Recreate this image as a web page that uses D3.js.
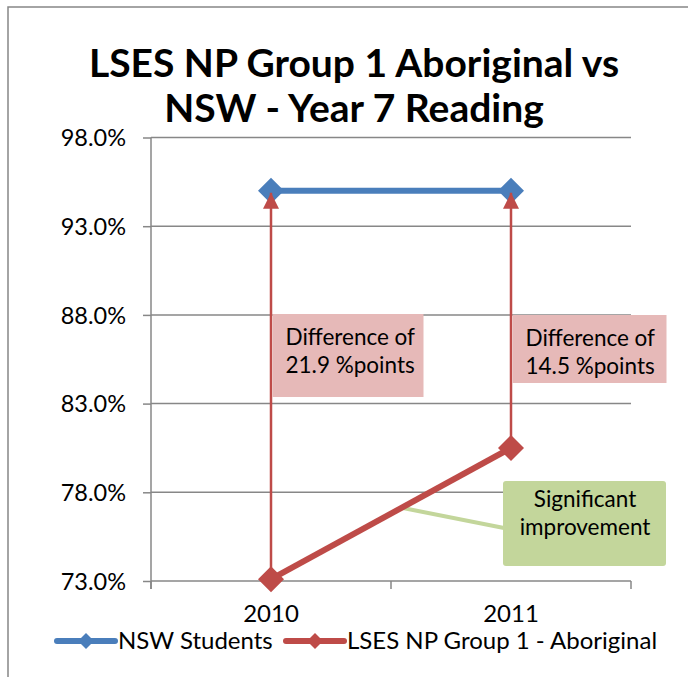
<!DOCTYPE html>
<html>
<head>
<meta charset="utf-8">
<style>
  body { margin: 0; background: #fff; }
  svg text { font-family: Lato, "Open Sans", sans-serif; fill: #000; }
</style>
<script src="https://d3js.org/d3.v7.min.js"></script>
</head>
<body>
<svg width="688" height="677"></svg>
<script>
var years = ["2010", "2011"];
var nswValues = [95.0, 95.0];
var lsesValues = [73.1, 80.5];
var yTicks = [73, 78, 83, 88, 93, 98];
var seriesNames = ["NSW Students", "LSES NP Group 1 - Aboriginal"];
var titleLines = ["LSES NP Group 1 Aboriginal vs", "NSW - Year 7 Reading"];
var diffLabels = [["Difference of", "21.9 %points"], ["Difference of", "14.5 %points"]];
var noteLines = ["Significant", "improvement"];

var svg = d3.select("svg");
var blue = "#4a7ebb", red = "#be4b48", grid = "#878787";

// chart frame (runs off the right and bottom edges)
svg.append("rect").attr("x", 8).attr("y", 7).attr("width", 720).attr("height", 720)
  .attr("fill", "none").attr("stroke", grid).attr("stroke-width", 1.5);

var x = d3.scaleBand().domain(years).range([151, 631]);
var y = d3.scaleLinear().domain([73, 98]).range([581, 137.5]);
function cx(d) { return x(d) + x.bandwidth() / 2; }

// title
svg.append("g").selectAll("text").data(titleLines).enter().append("text")
  .attr("x", 354).attr("y", function(d, i) { return 77 + i * 45; })
  .attr("text-anchor", "middle").attr("font-size", 39).attr("font-weight", "bold")
  .text(function(d) { return d; });

// gridlines
svg.append("g").selectAll("line").data(yTicks).enter().append("line")
  .attr("x1", 151).attr("x2", 631)
  .attr("y1", function(d) { return y(d); }).attr("y2", function(d) { return y(d); })
  .attr("stroke", grid).attr("stroke-width", 1.5);

// y axis
var yAxis = svg.append("g").attr("transform", "translate(151,0)")
  .call(d3.axisLeft(y).tickValues(yTicks).tickSize(8).tickPadding(17)
    .tickFormat(function(d) { return d.toFixed(1) + "%"; }));
yAxis.select(".domain").attr("stroke", grid).attr("stroke-width", 1.5).attr("d", "M0,137.5V589");
yAxis.selectAll(".tick line").attr("stroke", grid).attr("stroke-width", 1.5);
yAxis.selectAll(".tick text").attr("font-size", 23.5).attr("font-family", "Lato").attr("dy", "0.35em");

// x axis
var xAxis = svg.append("g").attr("transform", "translate(0,581)")
  .call(d3.axisBottom(x).tickSize(0).tickPadding(24));
xAxis.select(".domain").remove();
xAxis.selectAll(".tick text").attr("font-size", 24).attr("font-family", "Lato");
var edges = years.map(function(d) { return x(d); }).concat([x.range()[1]]);
svg.append("g").selectAll("line").data(edges).enter().append("line")
  .attr("x1", function(d) { return d; }).attr("x2", function(d) { return d; })
  .attr("y1", 581).attr("y2", 589).attr("stroke", grid).attr("stroke-width", 1.5);

function diamond(r) { return "M0," + (-r) + "L" + r + ",0L0," + r + "L" + (-r) + ",0Z"; }

var line = d3.line().x(function(d, i) { return cx(years[i]); }).y(function(d) { return y(d); });

// NSW series
svg.append("path").datum(nswValues).attr("d", line)
  .attr("fill", "none").attr("stroke", blue).attr("stroke-width", 6);
svg.append("g").selectAll("path").data(nswValues).enter().append("path")
  .attr("transform", function(d, i) { return "translate(" + cx(years[i]) + "," + y(d) + ")"; })
  .attr("d", diamond(13)).attr("fill", blue);

// difference arrows
svg.append("defs").append("marker").attr("id", "arrow")
  .attr("viewBox", "0 0 16 16").attr("refX", 16).attr("refY", 8)
  .attr("markerWidth", 16).attr("markerHeight", 16).attr("markerUnits", "userSpaceOnUse")
  .attr("orient", "auto")
  .append("path").attr("d", "M0,0L16,8L0,16Z").attr("fill", red);
svg.append("g").selectAll("line").data(years).enter().append("line")
  .attr("x1", function(d) { return cx(d); }).attr("x2", function(d) { return cx(d); })
  .attr("y1", function(d, i) { return y(lsesValues[i]); })
  .attr("y2", function(d, i) { return y(nswValues[i]) + 2; })
  .attr("stroke", red).attr("stroke-width", 2.5).attr("marker-end", "url(#arrow)");

// difference boxes
var boxes = svg.append("g").selectAll("g").data(diffLabels).enter().append("g")
  .attr("transform", function(d, i) { return "translate(" + (cx(years[i]) + 1.5) + "," + (i ? 315 : 314) + ")"; });
boxes.append("rect").attr("width", function(d, i) { return i ? 154 : 151; })
  .attr("height", function(d, i) { return i ? 68 : 83; }).attr("fill", "#e6b9b8");
boxes.selectAll("text").data(function(d) { return d; }).enter().append("text")
  .attr("x", 13).attr("y", function(d, i) { return 31 + i * 28; })
  .attr("font-size", 22.5).text(function(d) { return d; });

// note connector + box
svg.append("line").attr("x1", 403).attr("y1", 508).attr("x2", 504).attr("y2", 528)
  .attr("stroke", "#c3d69b").attr("stroke-width", 4);
svg.append("rect").attr("x", 503).attr("y", 481).attr("width", 163).attr("height", 85)
  .attr("rx", 3).attr("fill", "#c3d69b");
svg.append("g").selectAll("text").data(noteLines).enter().append("text")
  .attr("x", 585).attr("y", function(d, i) { return 507 + i * 28; })
  .attr("text-anchor", "middle").attr("font-size", 22.5).text(function(d) { return d; });

// LSES series
svg.append("path").datum(lsesValues).attr("d", line)
  .attr("fill", "none").attr("stroke", red).attr("stroke-width", 6);
svg.append("g").selectAll("path").data(lsesValues).enter().append("path")
  .attr("transform", function(d, i) { return "translate(" + cx(years[i]) + "," + y(d) + ")"; })
  .attr("d", diamond(13)).attr("fill", red);

// legend
var legendX = [57, 286], legendColors = [blue, red];
var legend = svg.append("g").selectAll("g").data(seriesNames).enter().append("g")
  .attr("transform", function(d, i) { return "translate(" + legendX[i] + ",641)"; });
legend.append("line").attr("x1", 0).attr("x2", 58).attr("y1", 0).attr("y2", 0)
  .attr("stroke", function(d, i) { return legendColors[i]; })
  .attr("stroke-width", 6).attr("stroke-linecap", "round");
legend.append("path").attr("transform", "translate(29,0)").attr("d", diamond(8))
  .attr("fill", function(d, i) { return legendColors[i]; });
legend.append("text").attr("x", 61).attr("y", 8).attr("font-size", 24)
  .text(function(d) { return d; });
</script>
</body>
</html>
